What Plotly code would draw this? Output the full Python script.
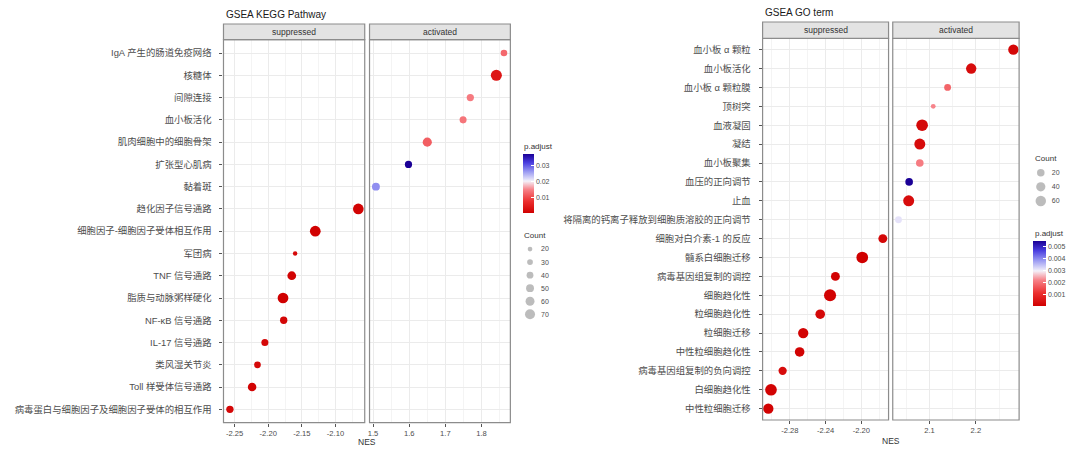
import numpy as np
import plotly.graph_objects as go

W, H = 1080, 462
def px(x): return x / W
def py(y): return 1 - y / H

FONT = "Liberation Sans, Noto Sans CJK SC, sans-serif"

# ---------------- data: GSEA KEGG ----------------
kegg_terms = ["IgA 产生的肠道免疫网络", "核糖体", "间隙连接", "血小板活化", "肌肉细胞中的细胞骨架",
              "扩张型心肌病", "黏着斑", "趋化因子信号通路", "细胞因子-细胞因子受体相互作用", "军团病",
              "TNF 信号通路", "脂质与动脉粥样硬化", "NF-κB 信号通路", "IL-17 信号通路", "类风湿关节炎",
              "Toll 样受体信号通路", "病毒蛋白与细胞因子及细胞因子受体的相互作用"]
kegg_nes = [1.862, 1.841, 1.769, 1.749, 1.650, 1.598, 1.508, -2.066, -2.130, -2.160,
            -2.165, -2.178, -2.177, -2.205, -2.216, -2.224, -2.257]
kegg_count = [38, 80, 44, 42, 62, 44, 50, 76, 77, 18, 58, 77, 45, 42, 39, 56, 45]
kegg_padj = [0.0130, 0.0040, 0.0145, 0.0140, 0.0120, 0.0373, 0.0270, 0.0010, 0.0008, 0.0020,
             0.0012, 0.0006, 0.0015, 0.0018, 0.0020, 0.0012, 0.0016]
kegg_sup_ticks = [-2.25, -2.20, -2.15, -2.10]
kegg_act_ticks = [1.5, 1.6, 1.7, 1.8]
kegg_padj_ticks = [0.01, 0.02, 0.03]
kegg_count_breaks = [20, 30, 40, 50, 60, 70]

# ---------------- data: GSEA GO ----------------
go_terms = ["血小板 α 颗粒", "血小板活化", "血小板 α 颗粒膜", "顶树突", "血液凝固", "凝结", "血小板聚集",
            "血压的正向调节", "止血", "将隔离的钙离子释放到细胞质溶胶的正向调节", "细胞对白介素-1 的反应",
            "髓系白细胞迁移", "病毒基因组复制的调控", "细胞趋化性", "粒细胞趋化性", "粒细胞迁移",
            "中性粒细胞趋化性", "病毒基因组复制的负向调控", "白细胞趋化性", "中性粒细胞迁移"]
go_nes = [2.281, 2.190, 2.139, 2.108, 2.084, 2.079, 2.079, 2.056, 2.055, 2.033,
          -2.176, -2.199, -2.229, -2.235, -2.246, -2.265, -2.269, -2.288, -2.301, -2.304]
go_count = [58, 58, 15, 8, 86, 71, 21, 21, 71, 15, 36, 86, 36, 95, 46, 58, 46, 28, 86, 58]
go_padj = [0.0002, 0.0003, 0.0018, 0.0022, 0.0002, 0.0003, 0.0021, 0.00544, 0.0003, 0.0031,
           0.0002, 0.00003, 0.0001, 0.0001, 0.0002, 0.0001, 0.0001, 0.0003, 0.0001, 0.0001]
go_sup_ticks = [-2.28, -2.24, -2.20]
go_act_ticks = [2.1, 2.2]
go_padj_ticks = [0.001, 0.002, 0.003, 0.004, 0.005]
go_count_breaks = [20, 40, 60]

# ---------------- scales ----------------
def kegg_size(c):
    return 4.7 + 0.106 * (np.asarray(c, float) - 20)

def go_size(c):
    return 4.8 + 0.78 * np.sqrt(np.maximum(np.asarray(c, float) - 8, 0))

COLORSCALE = [[0.0, "#D00000"], [0.2, "#EC3030"], [0.4, "#F7838A"], [0.54, "#F4F1FA"],
              [0.7, "#9A9AF2"], [0.85, "#4B3FE0"], [1.0, "#1A0096"]]

GRID = "#EBEBEB"
MINOR = "#F4F4F4"
BORDER = "#8C8C8C"
TXT = "#4D4D4D"

def expand(vals):
    lo, hi = min(vals), max(vals)
    s = hi - lo
    return [lo - 0.05 * s, hi + 0.05 * s]

def minor_of(ticks):
    step = ticks[1] - ticks[0]
    return [ticks[0] - step / 2] + [t + step / 2 for t in ticks]

fig = go.Figure()
layout = dict(width=W, height=H, margin=dict(l=0, r=0, t=0, b=0),
              paper_bgcolor="white", plot_bgcolor="white",
              font=dict(family=FONT, size=9, color=TXT), showlegend=False)
shapes, annos = [], []

def add_chart(terms, nes, count, padj, sizefn, sup_ticks, act_ticks, sup_fmt, act_fmt,
              xdom_s, xdom_a, ydom, strip, xa_s, xa_a, ya, cax,
              padj_ticks, padj_fmt, cb_x, cb_w, cb_top, cb_bot,
              title, title_xy, nes_xy, padj_title_xy):
    nes = np.asarray(nes); count = np.asarray(count); padj = np.asarray(padj)
    terms = np.asarray(terms)
    sup = nes < 0
    act = ~sup
    for mask, xa in ((sup, xa_s), (act, xa_a)):
        fig.add_trace(go.Scatter(
            x=nes[mask], y=terms[mask], mode="markers", xaxis=xa, yaxis=ya,
            marker=dict(size=sizefn(count[mask]), color=padj[mask], coloraxis=cax,
                        line=dict(width=0), opacity=1),
            hoverinfo="skip"))
    n = len(terms)
    yname = "yaxis" + ya[1:]
    layout[yname] = dict(domain=[py(ydom[1]), py(ydom[0])], anchor=xa_s, type="category",
                         categoryorder="array", categoryarray=list(terms[::-1]),
                         range=[-0.6, n - 0.4], showgrid=True, gridcolor=GRID, gridwidth=1,
                         zeroline=False, ticks="outside", ticklen=3, tickcolor="#555555",
                         tickwidth=1, tickfont=dict(size=9.4, color=TXT), ticklabelstandoff=6)
    for xa, dom, ticks, fmt, vals in ((xa_s, xdom_s, sup_ticks, sup_fmt, nes[sup]),
                                      (xa_a, xdom_a, act_ticks, act_fmt, nes[act])):
        xname = "xaxis" + xa[1:]
        layout[xname] = dict(domain=[px(dom[0]), px(dom[1])], anchor=ya, range=expand(vals),
                             tickmode="array", tickvals=ticks, ticktext=[fmt.format(t) for t in ticks],
                             showgrid=True, gridcolor=GRID, gridwidth=1, zeroline=False,
                             ticks="outside", ticklen=3, tickcolor="#555555", tickwidth=1,
                             tickfont=dict(size=7.6, color=TXT),
                             minor=dict(tickmode="array", tickvals=minor_of(ticks), showgrid=True,
                                        gridcolor=MINOR, gridwidth=0.6, ticks=""))
        shapes.append(dict(type="rect", xref=xa + " domain", yref=ya + " domain",
                           x0=0, x1=1, y0=0, y1=1, line=dict(color=BORDER, width=1.2),
                           fillcolor="rgba(0,0,0,0)", layer="above"))
        shapes.append(dict(type="rect", xref=xa + " domain", yref="paper",
                           x0=0, x1=1, y0=py(strip[1]), y1=py(strip[0]),
                           line=dict(color=BORDER, width=1.2), fillcolor="#E3E3E3", layer="above"))
        annos.append(dict(text="suppressed" if xa == xa_s else "activated",
                          xref=xa + " domain", yref="paper", x=0.5, y=py((strip[0] + strip[1]) / 2),
                          showarrow=False, font=dict(size=8.5, color="#333333"),
                          xanchor="center", yanchor="middle"))
    allp = padj
    layout[cax] = dict(colorscale=COLORSCALE, cmin=float(allp.min()), cmax=float(allp.max()),
                       colorbar=dict(x=px(cb_x), xanchor="left", xref="paper", xpad=0, ypad=0,
                                     y=py((cb_top + cb_bot) / 2), yanchor="middle",
                                     len=cb_bot - cb_top, lenmode="pixels", thickness=cb_w,
                                     outlinewidth=0, tickmode="array", tickvals=padj_ticks,
                                     ticktext=[padj_fmt.format(t) for t in padj_ticks],
                                     ticks="inside", ticklen=3, tickcolor="white", tickwidth=1,
                                     tickfont=dict(size=7, color=TXT)))
    annos.append(dict(text=title, xref="paper", yref="paper", x=px(title_xy[0]), y=py(title_xy[1]),
                      xanchor="left", yanchor="middle", showarrow=False,
                      font=dict(size=10, color="#1A1A1A")))
    annos.append(dict(text="NES", xref="paper", yref="paper", x=px(nes_xy[0]), y=py(nes_xy[1]),
                      xanchor="center", yanchor="middle", showarrow=False,
                      font=dict(size=8.5, color="#333333")))
    annos.append(dict(text="p.adjust", xref="paper", yref="paper", x=px(padj_title_xy[0]),
                      y=py(padj_title_xy[1]), xanchor="left", yanchor="middle", showarrow=False,
                      font=dict(size=8, color="#333333")))

def add_size_legend(breaks, sizefn, xa, ya, xdom, ytop, ybot, title_xy):
    labels = [str(b) for b in breaks]
    fig.add_trace(go.Scatter(x=[0] * len(breaks), y=labels, mode="markers", xaxis=xa, yaxis=ya,
                             marker=dict(size=sizefn(breaks), color="#A0A0A0", line=dict(width=0)),
                             hoverinfo="skip"))
    layout["xaxis" + xa[1:]] = dict(domain=[px(xdom[0]), px(xdom[1])], anchor=ya, range=[-1, 1],
                                    visible=False)
    layout["yaxis" + ya[1:]] = dict(domain=[py(ybot), py(ytop)], anchor=xa, side="right",
                                    type="category", categoryorder="array", categoryarray=labels,
                                    range=[len(breaks) - 0.5, -0.5], showgrid=False, zeroline=False,
                                    showline=False, ticks="", ticklabelstandoff=3,
                                    tickfont=dict(size=7, color=TXT))
    annos.append(dict(text="Count", xref="paper", yref="paper", x=px(title_xy[0]), y=py(title_xy[1]),
                      xanchor="left", yanchor="middle", showarrow=False,
                      font=dict(size=8, color="#333333")))

add_chart(kegg_terms, kegg_nes, kegg_count, kegg_padj, kegg_size,
          kegg_sup_ticks, kegg_act_ticks, "{:.2f}", "{:.1f}",
          (221.9, 363.4), (368.2, 509.3), (39.7, 422.7), (24.0, 39.7),
          "x", "x2", "y", "coloraxis",
          kegg_padj_ticks, "{:.2f}", 521.7, 11.3, 154.0, 212.7,
          "GSEA KEGG Pathway", (222, 15), (365.6, 442), (521, 146))
add_chart(go_terms, go_nes, go_count, go_padj, go_size,
          go_sup_ticks, go_act_ticks, "{:.2f}", "{:.1f}",
          (762.0, 888.2), (892.4, 1019.0), (38.3, 420.0), (22.0, 38.3),
          "x3", "x4", "y2", "coloraxis2",
          go_padj_ticks, "{:.3f}", 1032.7, 12.6, 240.7, 306.0,
          "GSEA GO term", (762, 12), (890.5, 440.7), (1032.7, 233.3))

add_size_legend(kegg_count_breaks, kegg_size, "x5", "y3", (522, 536), 242.5, 320.8, (521, 235.3))
add_size_legend(go_count_breaks, go_size, "x6", "y4", (1033.7, 1047.7), 165.6, 208.1, (1032.7, 158.3))

layout["shapes"] = shapes
layout["annotations"] = annos
fig.update_layout(**layout)
fig.write_html("out.html", config={"displayModeBar": False},
               post_script="document.body.style.margin='0px';document.body.style.overflow='hidden';")
